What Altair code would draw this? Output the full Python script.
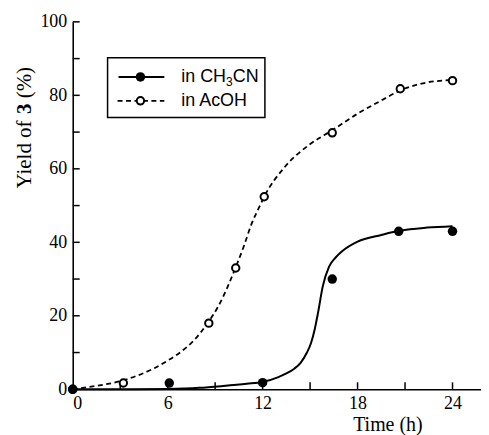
import altair as alt
import pandas as pd

# measured data points
ch3cn_t = [0.0, 6.1, 12.0, 16.4, 20.6, 24.0]
ch3cn_y = [0.0, 1.7, 1.8, 30.0, 43.0, 43.0]
acoh_t = [0.0, 3.2, 8.6, 10.3, 12.1, 16.4, 20.7, 24.0]
acoh_y = [0.0, 1.7, 18.0, 33.0, 52.4, 69.8, 81.8, 84.0]

# fitted curves
ch3cn_curve_t = [0, 3, 6, 8, 9.5, 11, 12, 13, 13.4, 14, 14.4, 14.8, 15.06, 15.3, 15.5,
                 15.8, 16.2, 16.6, 17.0, 18.0, 19.5, 20.7, 22.4, 24.0]
ch3cn_curve_y = [0, 0, 0.1, 0.4, 0.9, 1.5, 2.0, 3.3, 4.1, 5.6, 7.2, 10.0, 12.6, 16.5, 20.8,
                 28.0, 33.4, 35.8, 37.5, 40.2, 42.0, 43.2, 44.0, 44.4]
acoh_curve_t = [0, 1, 2, 3, 4, 5, 6, 6.9, 7.7, 8.5, 9.2, 9.8, 10.3, 10.8, 11.3, 11.8, 12.1,
                13.4, 14.9, 16.4, 18.0, 19.5, 20.9, 22.4, 24.0]
acoh_curve_y = [0, 0.6, 1.3, 2.2, 3.6, 5.4, 7.8, 10.4, 13.5, 17.9, 22.6, 28.0, 33.2, 38.8,
                45.0, 49.7, 52.4, 60.5, 66.4, 70.5, 75.0, 78.6, 81.7, 83.5, 84.2]

x_labels = [0, 6, 12, 18, 24]
x_minor = [3, 6, 9, 12, 15, 18, 21, 24]
y_labels = [0, 20, 40, 60, 80, 100]
y_minor = [10, 20, 30, 40, 50, 60, 70, 80, 90, 100]

W, H = 410, 369
SERIF = "Liberation Serif"
SANS = "Liberation Sans"

xs = alt.Scale(domain=[0, 25.8], nice=False, zero=False)
ys = alt.Scale(domain=[0, 100], nice=False)

one = pd.DataFrame({"a": [0]})

ch_pts = pd.DataFrame({"t": ch3cn_t, "y": ch3cn_y})
ac_pts = pd.DataFrame({"t": acoh_t, "y": acoh_y})
ch_cur = pd.DataFrame({"t": ch3cn_curve_t, "y": ch3cn_curve_y})
ac_cur = pd.DataFrame({"t": acoh_curve_t, "y": acoh_curve_y})
xt_df = pd.DataFrame({"t": x_minor})
yt_df = pd.DataFrame({"y": y_minor})

x_axis = alt.Axis(values=x_labels, ticks=False, grid=False, domainColor="black",
                  domainWidth=1.6, labelFont=SERIF, labelFontSize=18, labelColor="black",
                  labelPadding=5, title="Time (h)", titleFont=SERIF, titleFontSize=20,
                  titleFontWeight="normal", titleColor="black", titleX=316, titleY=35,
                  titleAlign="center", titleBaseline="middle")
y_axis = alt.Axis(values=y_labels, ticks=False, grid=False, domainColor="black",
                  domainWidth=1.6, labelFont=SERIF, labelFontSize=18, labelColor="black",
                  labelPadding=6, title=None)

X = alt.X("t:Q", scale=xs, axis=x_axis, title="Time (h)")
Y = alt.Y("y:Q", scale=ys, axis=y_axis, title=None)

ac_line = alt.Chart(ac_cur).mark_line(color="black", strokeWidth=1.8, strokeDash=[5, 3.5],
                                      interpolate="monotone").encode(x=X, y=Y)
ch_line = alt.Chart(ch_cur).mark_line(color="black", strokeWidth=2,
                                      interpolate="monotone").encode(x=X, y=Y)

ytick = alt.Chart(yt_df).mark_rule(color="black", strokeWidth=1.5).encode(
    y=Y, x=alt.value(0), x2=alt.value(7))
xtick = alt.Chart(xt_df).mark_rule(color="black", strokeWidth=1.5).encode(
    x=X, y=alt.value(H), y2=alt.value(H - 7))

ac_p = alt.Chart(ac_pts).mark_point(shape="circle", fill="white", fillOpacity=1, stroke="black",
                                    strokeWidth=2, size=55, opacity=1).encode(x=X, y=Y)
ch_p = alt.Chart(ch_pts).mark_circle(color="black", size=90, opacity=1).encode(x=X, y=Y)

# legend
r1, r2 = 55.3, 79.3
box = alt.Chart(one).mark_rect(fill="white", stroke="black", strokeWidth=1.5).encode(
    x=alt.value(35), x2=alt.value(193), y=alt.value(36), y2=alt.value(96))
leg_l1 = alt.Chart(one).mark_rule(color="black", strokeWidth=2).encode(
    x=alt.value(46), x2=alt.value(92), y=alt.value(r1))
leg_l2 = alt.Chart(one).mark_rule(color="black", strokeWidth=1.8, strokeDash=[5, 3.5]).encode(
    x=alt.value(45), x2=alt.value(92), y=alt.value(r2))
leg_p1 = alt.Chart(one).mark_circle(color="black", size=90, opacity=1).encode(
    x=alt.value(68), y=alt.value(r1))
leg_p2 = alt.Chart(one).mark_point(shape="circle", fill="white", fillOpacity=1, stroke="black",
                                   strokeWidth=2, size=55, opacity=1).encode(
    x=alt.value(68), y=alt.value(r2))


def txt(s, x, y, size=18, font=SANS, weight="normal", angle=0, align="left", baseline="middle"):
    return alt.Chart(one).mark_text(text=s, font=font, fontSize=size, fontWeight=weight,
                                    angle=angle, align=align, baseline=baseline,
                                    color="black").encode(x=alt.value(x), y=alt.value(y))


leg_t = [
    txt("in CH", 109, r1),
    txt("3", 154, r1 + 5, size=12),
    txt("CN", 160.7, r1),
    txt("in AcOH", 109, r2),
]

ytitle = [
    txt("Yield of", -48, 167.3, size=21, font=SERIF, angle=270),
    txt("3", -48, 92.6, size=21, font=SERIF, weight="bold", angle=270),
    txt("(%)", -48, 76.8, size=21, font=SERIF, angle=270),
]

chart = alt.layer(ac_line, ch_line, ytick, xtick, ac_p, ch_p, box, leg_l1, leg_l2, leg_p1,
                  leg_p2, *leg_t, *ytitle).properties(
    width=W, height=H, padding={"left": 5, "top": 4, "right": 0, "bottom": 0}
).configure_view(stroke=None)

chart.save("out.html", embed_options={"renderer": "svg", "actions": False})
